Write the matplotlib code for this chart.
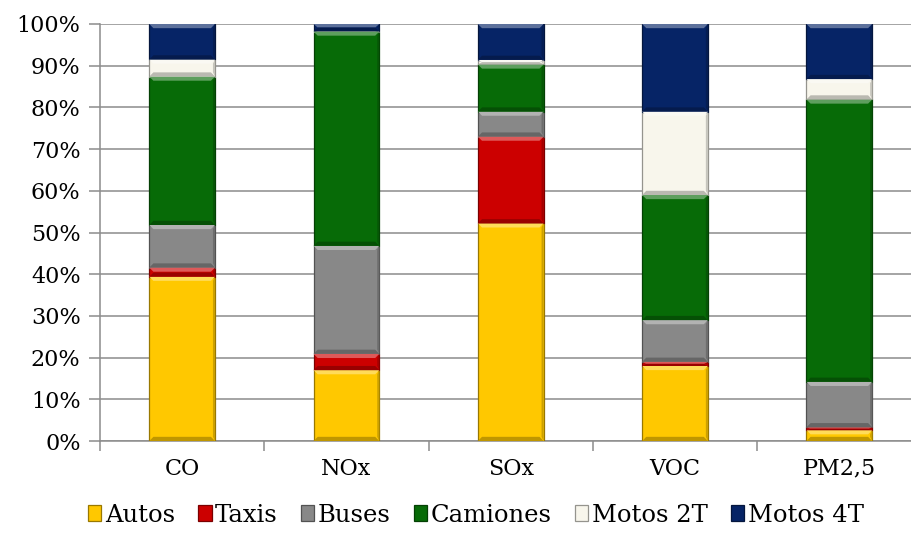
import matplotlib
matplotlib.use("Agg")
from matplotlib import pyplot as plt
from matplotlib.patches import Polygon
from matplotlib.colors import to_rgb
import numpy as np

categories = ['CO', 'NOx', 'SOx', 'VOC', 'PM2,5']
series = ['Autos', 'Taxis', 'Buses', 'Camiones', 'Motos 2T', 'Motos 4T']
autos = [39.4, 17.0, 52.2, 18.0, 2.6]
taxis = [2.2, 3.9, 20.8, 1.0, 0.7]
buses = [10.2, 25.9, 6.0, 10.0, 10.9]
camiones = [35.6, 51.4, 11.3, 30.0, 67.7]
motos_2t = [4.1, 0.1, 1.1, 20.0, 4.9]
motos_4t = [8.5, 1.7, 8.6, 21.0, 13.2]
colors = ['#FFC800', '#CC0000', '#888888', '#076B07', '#F8F6EC', '#062466']

values = [autos, taxis, buses, camiones, motos_2t, motos_4t]

plt.rcParams['font.family'] = ['DejaVu Serif']
plt.rcParams['font.size'] = 16

fig = plt.figure(figsize=(9.12, 5.44), dpi=100)
ax = fig.add_axes([100 / 912, 103 / 544, 821.5 / 912, 417 / 544])

x = np.arange(len(categories))
bottom = np.zeros(len(categories))
width = 0.4


def shade(c, f):
    r, g, b = to_rgb(c)
    if f > 0:
        return (r + (1 - r) * f, g + (1 - g) * f, b + (1 - b) * f)
    return (r * (1 + f), g * (1 + f), b * (1 + f))


handles = []
for name, vals, col in zip(series, values, colors):
    bars = ax.bar(x, vals, width, bottom=bottom, color=col, label=name,
                  edgecolor=shade(col, -0.4), linewidth=0.9, zorder=3)
    handles.append(bars)
    # bevel effect on each segment
    for rect in bars:
        x0, y0 = rect.get_x(), rect.get_y()
        w, h = rect.get_width(), rect.get_height()
        if h <= 0:
            continue
        dy = min(1.0, h / 2)
        dx = 0.025
        top = [(x0, y0 + h), (x0 + w, y0 + h), (x0 + w - dx, y0 + h - dy), (x0 + dx, y0 + h - dy)]
        bot = [(x0, y0), (x0 + w, y0), (x0 + w - dx, y0 + dy), (x0 + dx, y0 + dy)]
        right = [(x0 + w, y0), (x0 + w, y0 + h), (x0 + w - dx * 0.5, y0 + h - dy), (x0 + w - dx * 0.5, y0 + dy)]
        ax.add_patch(Polygon(top, closed=True, facecolor=shade(col, 0.35), edgecolor='none', zorder=4))
        ax.add_patch(Polygon(bot, closed=True, facecolor=shade(col, -0.25), edgecolor='none', zorder=4))
        ax.add_patch(Polygon(right, closed=True, facecolor=shade(col, -0.2), edgecolor='none', zorder=4))
    bottom += np.array(vals)

ax.set_xlim(-0.5, len(categories) - 0.5)
ax.set_ylim(0, 100)
ax.set_yticks(np.arange(0, 101, 10))
ax.set_yticklabels([f'{v}%' for v in range(0, 101, 10)])
ax.yaxis.grid(True, color='#8c8c8c', linewidth=1.1, zorder=0)
ax.set_axisbelow(True)

ax.set_xticks(x)
ax.set_xticklabels(categories)
ax.set_xticks(np.arange(-0.5, len(categories), 1), minor=True)
ax.tick_params(axis='x', which='major', length=0, pad=12)
ax.tick_params(axis='x', which='minor', length=7, color='#8c8c8c', width=1.1)
ax.tick_params(axis='y', length=8, color='#8c8c8c', width=1.1, pad=6)

for s in ['top', 'right']:
    ax.spines[s].set_visible(False)
for s in ['left', 'bottom']:
    ax.spines[s].set_color('#8c8c8c')
    ax.spines[s].set_linewidth(1.1)

fig.legend(handles=handles, labels=series, loc='center', bbox_to_anchor=(476 / 912, 1 - 515 / 544),
           ncol=6, frameon=False, handlelength=0.55, handleheight=0.6, handletextpad=0.15,
           columnspacing=0.95, fontsize=17.5)

fig.savefig('out.png', dpi=100)
